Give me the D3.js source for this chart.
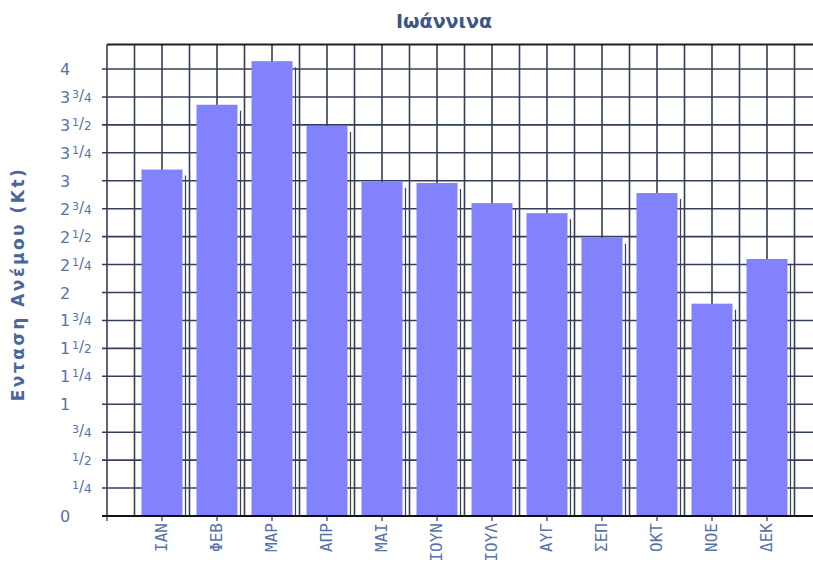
<!DOCTYPE html>
<html>
<head>
<meta charset="utf-8">
<script src="https://cdn.jsdelivr.net/npm/d3@7"></script>
<style>
 body { margin: 0; background: #fff; }
 svg { display: block; }
</style>
</head>
<body>
<div class="chart"></div>
<script>
// data
var months = ["ΙΑΝ", "ΦΕΒ", "ΜΑΡ", "ΑΠΡ", "ΜΑΙ", "ΙΟΥΝ", "ΙΟΥΛ", "ΑΥΓ", "ΣΕΠ", "ΟΚΤ", "ΝΟΕ", "ΔΕΚ"];
var windSpeed = [3.1, 3.68, 4.07, 3.49, 2.99, 2.98, 2.8, 2.71, 2.49, 2.89, 1.9, 2.3];
var yTicks = [0, 0.25, 0.5, 0.75, 1, 1.25, 1.5, 1.75, 2, 2.25, 2.5, 2.75, 3, 3.25, 3.5, 3.75, 4];
var yTickLabels = ["0", "1/4", "1/2", "3/4", "1", "1 1/4", "1 1/2", "1 3/4", "2", "2 1/4", "2 1/2", "2 3/4",
                   "3", "3 1/4", "3 1/2", "3 3/4", "4"];
var title = "Ιωάννινα";
var yTitle = "Ενταση Ανέμου (Kt)";

var w = 813;
var h = 565;
var yTop = 4.22;
var gridColor = "#353e58";
var textColor = "#5873a6";

var svg = d3.select(".chart").append("svg").attr("width", w).attr("height", h);
svg.append("rect").attr("width", w).attr("height", h).attr("fill", "#fff");

// positions 1..12 are the months, 0 and 13 are the empty margins
var x = d3.scaleLinear().domain([0, 13]).range([107, 822]);
var y = d3.scaleLinear().domain([0, 4]).range([516, 69]);
var barWidth = 41;

var grid = svg.append("g");

// vertical grid, every half month
grid.selectAll("line.v")
  .data(d3.range(0, 27).map(function(i){ return i / 2; }))
  .enter().append("line")
  .attr("class", "v")
  .attr("x1", function(d){ return x(d); })
  .attr("x2", function(d){ return x(d); })
  .attr("y1", y(yTop))
  .attr("y2", y(0))
  .attr("stroke", gridColor)
  .attr("stroke-width", 1.6);

// horizontal grid with the little outside ticks
grid.selectAll("line.hz")
  .data(yTicks.slice(1))
  .enter().append("line")
  .attr("class", "hz")
  .attr("x1", x(0) - 5)
  .attr("x2", x(13))
  .attr("y1", function(d){ return y(d); })
  .attr("y2", function(d){ return y(d); })
  .attr("stroke", gridColor)
  .attr("stroke-width", 1.6);

// top border
grid.append("line")
  .attr("x1", x(0)).attr("x2", x(13))
  .attr("y1", y(yTop)).attr("y2", y(yTop))
  .attr("stroke", "#1c1f2a").attr("stroke-width", 2);

// bars
svg.selectAll("rect.bar")
  .data(windSpeed)
  .enter()
  .append("rect")
  .attr("class", "bar")
  .attr("x", function(d, i){ return x(i + 1) - barWidth / 2; })
  .attr("y", function(d){ return y(d); })
  .attr("width", barWidth)
  .attr("height", function(d){ return y(0) - y(d); })
  .attr("fill", "#8282fc");

// thin dark edge just right of each bar
svg.selectAll("line.edge")
  .data(windSpeed)
  .enter()
  .append("line")
  .attr("class", "edge")
  .attr("x1", function(d, i){ return x(i + 1) + barWidth / 2 + 3; })
  .attr("x2", function(d, i){ return x(i + 1) + barWidth / 2 + 3; })
  .attr("y1", function(d){ return y(d) + 6; })
  .attr("y2", y(0))
  .attr("stroke", gridColor)
  .attr("stroke-width", 1.2);

// x axis line and ticks
svg.append("line")
  .attr("x1", x(0) - 5).attr("x2", x(13))
  .attr("y1", y(0)).attr("y2", y(0))
  .attr("stroke", "#111").attr("stroke-width", 2.2);

svg.selectAll("line.xt")
  .data(d3.range(0, 14))
  .enter().append("line")
  .attr("class", "xt")
  .attr("x1", function(d){ return x(d); })
  .attr("x2", function(d){ return x(d); })
  .attr("y1", y(0))
  .attr("y2", y(0) + 5)
  .attr("stroke", "#333")
  .attr("stroke-width", 1.2);

// month labels, rotated
svg.selectAll("text.month")
  .data(months)
  .enter().append("text")
  .attr("class", "month")
  .attr("transform", function(d, i){ return "translate(" + (x(i + 1) + 5) + "," + (y(0) + 7) + ") rotate(-90)"; })
  .attr("text-anchor", "end")
  .attr("font-family", "DejaVu Sans Mono")
  .attr("font-size", 16)
  .attr("fill", textColor)
  .text(function(d){ return d; });

// y tick labels: whole part + small fraction
var yl = svg.selectAll("g.yl")
  .data(yTicks)
  .enter().append("g")
  .attr("class", "yl")
  .attr("transform", function(d){ return "translate(0," + y(d) + ")"; });

yl.each(function(d, i){
  var parts = yTickLabels[i].split(" ");
  var whole = "", frac = "";
  parts.forEach(function(p){
    if (p.indexOf("/") >= 0) frac = p; else whole = p;
  });
  var g = d3.select(this);
  if (whole) {
    g.append("text")
      .attr("x", 60).attr("y", 6)
      .attr("font-family", "DejaVu Sans")
      .attr("font-size", 16)
      .attr("fill", textColor)
      .text(whole);
  }
  if (frac) {
    var f = frac.split("/");
    var t = g.append("text")
      .attr("x", 72).attr("y", 3)
      .attr("font-family", "DejaVu Sans")
      .attr("fill", textColor);
    t.append("tspan").attr("font-size", 11).attr("dy", -2).text(f[0]);
    t.append("tspan").attr("font-size", 15).attr("dy", 3).text("/");
    t.append("tspan").attr("font-size", 12).attr("dy", 1).text(f[1]);
  }
});

// titles
svg.append("text")
  .attr("x", 444).attr("y", 28)
  .attr("text-anchor", "middle")
  .attr("font-family", "DejaVu Sans")
  .attr("font-weight", "bold")
  .attr("font-size", 19)
  .attr("fill", "#3d5688")
  .text(title);

svg.append("text")
  .attr("transform", "translate(24,284) rotate(-90)")
  .attr("text-anchor", "middle")
  .attr("font-family", "DejaVu Sans")
  .attr("font-weight", "bold")
  .attr("font-size", 17)
  .attr("letter-spacing", 2.5)
  .attr("fill", "#4a669a")
  .text(yTitle);
</script>
</body>
</html>
